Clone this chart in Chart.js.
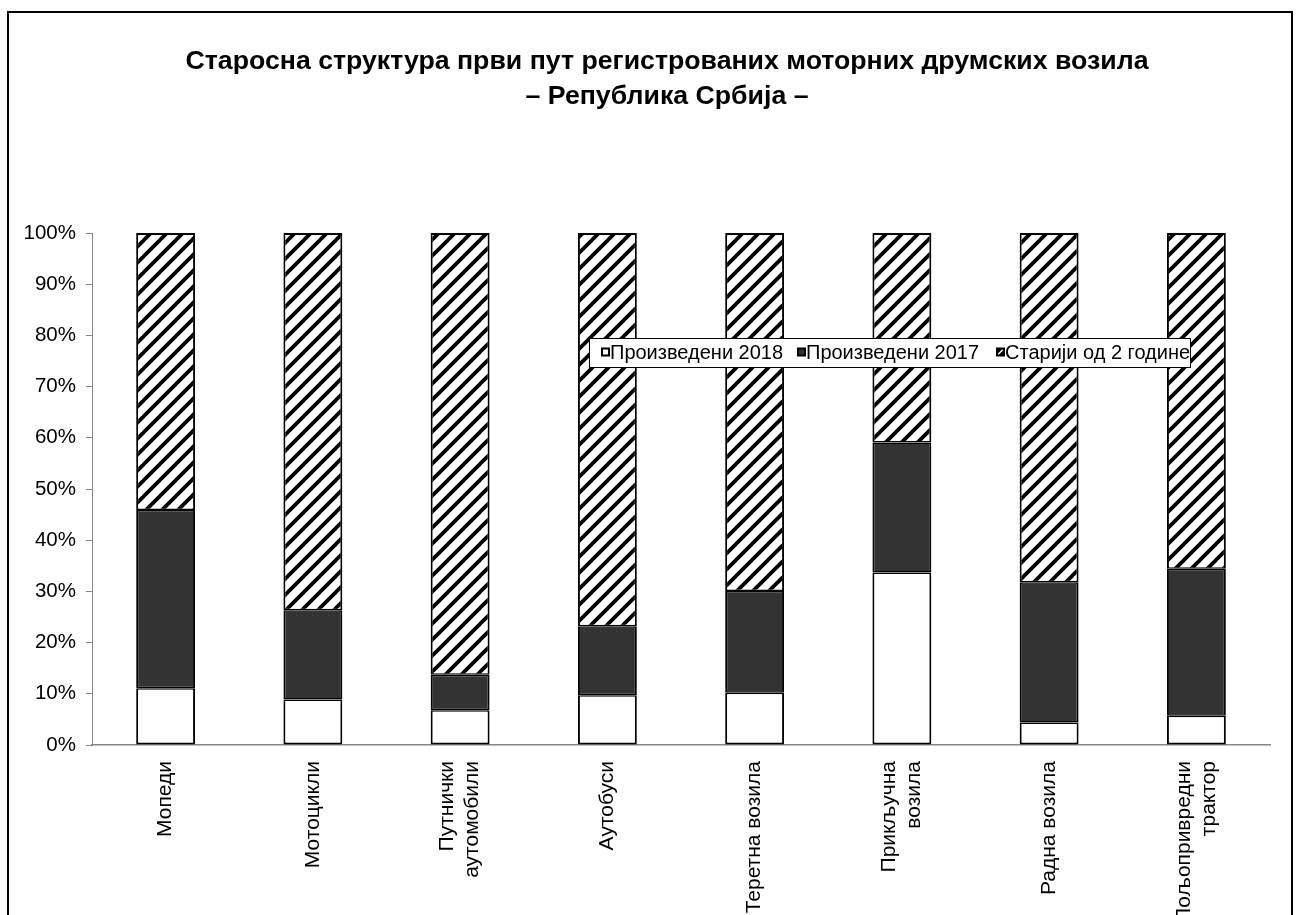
<!DOCTYPE html>
<html>
<head>
<meta charset="utf-8">
<script src="https://cdn.jsdelivr.net/npm/chart.js@4/dist/chart.umd.min.js"></script>
<style>
    html, body { margin: 0; padding: 0; background: #ffffff; }
    canvas { display: block; }
</style>
</head>
<body>
<canvas id="ageChart" width="1299" height="915"></canvas>
<script>
const categories = [
    ['Мопеди'],
    ['Мотоцикли'],
    ['Путнички', 'аутомобили'],
    ['Аутобуси'],
    ['Теретна возила'],
    ['Прикључна', 'возила'],
    ['Радна возила'],
    ['Пољопривредни', 'трактор'],
];
const made2018 = [11.1, 8.9, 6.8, 9.7, 10.2, 33.7, 4.4, 5.7];
const made2017 = [34.8, 17.4, 6.9, 13.5, 19.9, 25.4, 27.4, 28.7];
const olderThan2 = [54.1, 73.7, 86.3, 76.8, 69.9, 40.9, 68.2, 65.6];
const seriesNames = ['Произведени 2018', 'Произведени 2017', 'Старији од 2 године'];
const yTicks = [0, 10, 20, 30, 40, 50, 60, 70, 80, 90, 100];
const titleLines = [
    'Старосна структура први пут регистрованих моторних друмских возила',
    '– Република Србија –',
];

const FONT = 'Liberation Sans, Arial, sans-serif';
const AXIS_GREY = '#868686';
const DARK = '#333333';

function hatchPattern() {
    const s = 16;
    const c = document.createElement('canvas');
    c.width = s;
    c.height = s;
    const g = c.getContext('2d');
    g.fillStyle = '#ffffff';
    g.fillRect(0, 0, s, s);
    g.strokeStyle = '#000000';
    g.lineWidth = 3.8;
    [0, s, 2 * s].forEach((k) => {
        g.beginPath();
        g.moveTo(k - s - 1, s + 1);
        g.lineTo(k + 1, -1);
        g.stroke();
    });
    return g.createPattern(c, 'repeat');
}

const hatch = hatchPattern();
const fills = ['#ffffff', DARK, hatch];

// white page + outer frame + title
const framePlugin = {
    id: 'frame',
    beforeDraw(chart) {
        const ctx = chart.ctx;
        ctx.save();
        ctx.fillStyle = '#ffffff';
        ctx.fillRect(0, 0, chart.width, chart.height);
        ctx.strokeStyle = '#000000';
        ctx.lineWidth = 2;
        ctx.strokeRect(8, 12, 1284, 1000);

        ctx.fillStyle = '#000000';
        ctx.font = 'bold 26.7px ' + FONT;
        ctx.textAlign = 'center';
        ctx.textBaseline = 'middle';
        titleLines.forEach((line, i) => {
            ctx.fillText(line, 667, 62 + i * 35);
        });
        ctx.restore();
    },
};

// rotated multi-line category labels, centred on each bar
const categoryLabels = {
    id: 'categoryLabels',
    afterDraw(chart) {
        const ctx = chart.ctx;
        const x = chart.scales.x;
        const lh = 25;
        ctx.save();
        ctx.font = '21px ' + FONT;
        ctx.fillStyle = '#000000';
        ctx.textAlign = 'right';
        ctx.textBaseline = 'middle';
        categories.forEach((lines, i) => {
            const px = x.getPixelForValue(i);
            ctx.save();
            ctx.translate(px, x.top + 16);
            ctx.rotate(-Math.PI / 2);
            lines.forEach((line, j) => {
                ctx.fillText(line, 0, (j - (lines.length - 1) / 2) * lh);
            });
            ctx.restore();
        });
        ctx.restore();
    },
};

// legend box sitting inside the plot
const legendKeys = [602, 798, 997];
const boxLegend = {
    id: 'boxLegend',
    afterDraw(chart) {
        const ctx = chart.ctx;
        const left = 589, top = 338, w = 601, h = 29;
        const cy = top + h / 2;
        ctx.save();
        ctx.fillStyle = '#ffffff';
        ctx.fillRect(left, top, w, h);
        ctx.strokeStyle = '#000000';
        ctx.lineWidth = 1;
        ctx.strokeRect(left + 0.5, top + 0.5, w, h);
        ctx.font = '20px ' + FONT;
        ctx.textBaseline = 'middle';
        ctx.textAlign = 'left';
        seriesNames.forEach((name, i) => {
            const kx = legendKeys[i];
            const ky = cy - 4;
            ctx.fillStyle = i === 0 ? '#ffffff' : (i === 1 ? DARK : '#000000');
            ctx.fillRect(kx, ky, 7, 7);
            if (i === 2) {
                ctx.strokeStyle = '#ffffff';
                ctx.lineWidth = 1.5;
                ctx.beginPath();
                ctx.moveTo(kx + 1, ky + 6);
                ctx.lineTo(kx + 6, ky + 1);
                ctx.stroke();
            }
            ctx.lineWidth = 2;
            ctx.strokeStyle = '#000000';
            ctx.strokeRect(kx, ky, 7, 7);
            ctx.fillStyle = '#000000';
            ctx.fillText(name, kx + 8, cy + 1);
        });
        ctx.restore();
    },
};

const seriesData = [made2018, made2017, olderThan2];
const borderWidths = [
    { top: 1.5, bottom: 2, left: 2, right: 2 },
    { top: 1.5, bottom: 1.5, left: 2, right: 2 },
    { top: 2, bottom: 1.5, left: 2, right: 2 },
];

new Chart(document.getElementById('ageChart').getContext('2d'), {
    type: 'bar',
    data: {
        labels: categories.map((c) => c.join(' ')),
        datasets: seriesNames.map((name, i) => ({
            label: name,
            data: seriesData[i],
            backgroundColor: fills[i],
            borderColor: '#000000',
            borderWidth: borderWidths[i],
            borderSkipped: false,
            inflateAmount: 0,
            barPercentage: 0.4,
            categoryPercentage: 1,
        })),
    },
    options: {
        responsive: false,
        animation: false,
        layout: {
            padding: { top: 233, left: 10, right: 29, bottom: 0 },
        },
        plugins: {
            legend: { display: false },
            tooltip: { enabled: false },
            title: { display: false },
        },
        scales: {
            x: {
                stacked: true,
                afterFit(scale) { scale.height = 170; },
                grid: { display: false },
                border: { display: true, color: AXIS_GREY, width: 1.5 },
                ticks: { display: false },
            },
            y: {
                stacked: true,
                min: 0,
                max: 100,
                afterFit(scale) { scale.width = 82; },
                afterBuildTicks(scale) {
                    scale.ticks = yTicks.map((v) => ({ value: v }));
                },
                grid: {
                    drawOnChartArea: false,
                    drawTicks: true,
                    tickLength: 6,
                    color: AXIS_GREY,
                },
                border: { display: true, color: AXIS_GREY, width: 1 },
                ticks: {
                    padding: 10,
                    color: '#000000',
                    font: { family: FONT, size: 20.5 },
                    callback: (v) => v + '%',
                },
            },
        },
    },
    plugins: [framePlugin, categoryLabels, boxLegend],
});
</script>
</body>
</html>
